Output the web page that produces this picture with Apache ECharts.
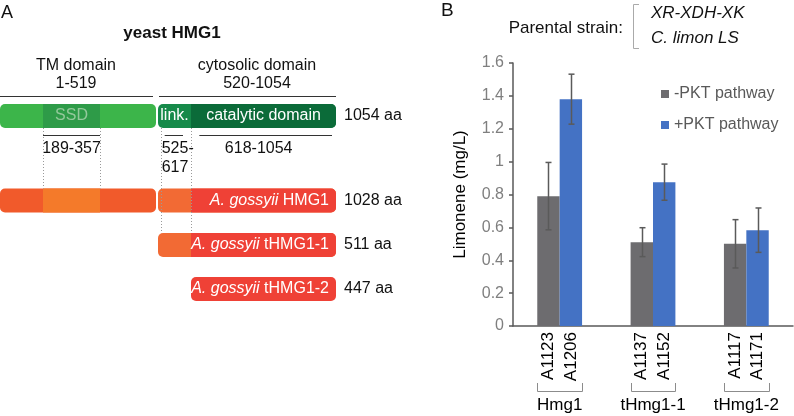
<!DOCTYPE html>
<html><head><meta charset="utf-8">
<script src="https://cdn.jsdelivr.net/npm/echarts@6/dist/echarts.min.js"></script>
<style>html,body{margin:0;padding:0;background:#fff}#c{width:794px;height:416px}</style>
</head><body><div id="c"></div>
<script>
// ---------- Panel B data ----------
const groups = ['Hmg1', 'tHmg1-1', 'tHmg1-2'];
const strainsMinus = ['A1123', 'A1137', 'A1117'];
const strainsPlus = ['A1206', 'A1152', 'A1171'];
const seriesNames = ['-PKT pathway', '+PKT pathway'];
const minusPKT = [0.79, 0.51, 0.50];
const minusPKTErr = [0.205, 0.088, 0.147];
const plusPKT = [1.38, 0.875, 0.583];
const plusPKTErr = [0.152, 0.11, 0.135];
const yMin = 0, yMax = 1.6, yStep = 0.2;
const yAxisTitle = 'Limonene (mg/L)';
const parentalLabel = 'Parental strain:';
const parentalStrain = ['XR-XDH-XK', 'C. limon LS'];

// ---------- Panel A data ----------
const diagramTitle = 'yeast HMG1';
const proteinNames = ['yeast HMG1', 'A. gossyii HMG1', 'A. gossyii tHMG1-1', 'A. gossyii tHMG1-2'];
const proteinLengths = ['1054 aa', '1028 aa', '511 aa', '447 aa'];
const domainNames = ['TM domain', 'cytosolic domain'];
const domainRanges = [[1, 519], [520, 1054]];
const ssdRange = [189, 357];
const linkRange = [525, 617];
const catalyticRange = [618, 1054];
// segments present in each protein row (yeast numbering)
const rowSegments = [
  ['tm', 'ssd', 'cyto', 'cat'],
  ['tm', 'ssd', 'cyto', 'cat'],
  ['cyto', 'cat'],
  ['catOnly']
];

// ---------- layout / style ----------
const FONT = '"Liberation Sans", Arial, Helvetica, sans-serif';
const aaKnots = [0, 189, 357, 519, 520, 617, 1054];
const pxKnots = [0, 43, 100, 156, 158, 191, 336];
function aaX(aa) {
  for (let k = 1; k < aaKnots.length; k++) {
    if (aa <= aaKnots[k]) {
      const t = (aa - aaKnots[k - 1]) / (aaKnots[k] - aaKnots[k - 1] || 1);
      return pxKnots[k - 1] + t * (pxKnots[k] - pxKnots[k - 1]);
    }
  }
  return pxKnots[pxKnots.length - 1];
}
const rowY = [116, 200.5, 245, 289];
const rowH = 24;
const palettes = [
  { tm: '#3cb54a', ssd: '#2e9b48', link: '#168a4a', cat: '#0b6b39' },
  { tm: '#f15a2b', ssd: '#f47a2a', link: '#f26a34', cat: '#ef4136' },
  { tm: '#f15a2b', ssd: '#f47a2a', link: '#f26a34', cat: '#ef4136' },
  { tm: '#f15a2b', ssd: '#f47a2a', link: '#f26a34', cat: '#ef4136' }
];
const BAR_W = 0.24; // fraction of category band

function richName(name) {
  const sp = name.lastIndexOf(' ');
  return '{i|' + name.slice(0, sp) + '} ' + name.slice(sp + 1);
}

function renderRow(params, api) {
  const r = api.value(0);
  const pal = palettes[r];
  const P = (x, y) => api.coord([x, y]);
  const top = rowY[r] - rowH / 2;
  const children = [];
  const rect = (a, b, fill, rad) => {
    const p0 = P(aaX(a), top), p1 = P(aaX(b), top + rowH);
    children.push({ type: 'rect', shape: { x: p0[0], y: p0[1], width: p1[0] - p0[0], height: p1[1] - p0[1], r: rad }, style: { fill } });
  };
  rowSegments[r].forEach(s => {
    if (s === 'tm') rect(0, domainRanges[0][1], pal.tm, 5);
    if (s === 'ssd') rect(ssdRange[0], ssdRange[1], pal.ssd, 0);
    if (s === 'cyto') rect(domainRanges[1][0], domainRanges[1][1], pal.link, 5);
    if (s === 'cat') rect(linkRange[1], catalyticRange[1], pal.cat, [0, 5, 5, 0]);
    if (s === 'catOnly') rect(linkRange[1], catalyticRange[1], pal.cat, 5);
  });
  const c = P(0, rowY[r]);
  if (r === 0) {
    children.push({ type: 'text', x: P(aaX((ssdRange[0] + ssdRange[1]) / 2), 0)[0], y: c[1], style: { text: 'SSD', fill: '#93c99b', fontSize: 16, fontFamily: FONT, align: 'center', verticalAlign: 'middle' } });
    children.push({ type: 'text', x: P((aaX(domainRanges[1][0]) + aaX(linkRange[1])) / 2, 0)[0], y: c[1], style: { text: 'link.', fill: '#fff', fontSize: 16, fontFamily: FONT, align: 'center', verticalAlign: 'middle' } });
    children.push({ type: 'text', x: P((aaX(linkRange[1]) + aaX(catalyticRange[1])) / 2, 0)[0], y: c[1], style: { text: 'catalytic domain', fill: '#fff', fontSize: 16, fontFamily: FONT, align: 'center', verticalAlign: 'middle' } });
  } else {
    children.push({ type: 'text', x: P(aaX(catalyticRange[1]) - 7, 0)[0], y: c[1], style: { text: richName(proteinNames[r]), fill: '#fff', fontSize: 16, fontFamily: FONT, align: 'right', verticalAlign: 'middle', rich: { i: { fontStyle: 'italic', fontSize: 16, fontFamily: FONT, fill: '#fff' } } } });
  }
  children.push({ type: 'text', x: P(aaX(catalyticRange[1]) + 8, 0)[0], y: c[1], style: { text: proteinLengths[r], fill: '#111', fontSize: 16, fontFamily: FONT, align: 'left', verticalAlign: 'middle' } });
  return { type: 'group', children };
}

function renderAnnot(params, api) {
  const P = (x, y) => api.coord([x, y]);
  const children = [];
  const txt = (x, y, t, o) => children.push({ type: 'text', x: P(x, y)[0], y: P(x, y)[1], style: Object.assign({ text: t, fill: '#111', fontSize: 16, fontFamily: FONT, align: 'center', verticalAlign: 'middle' }, o || {}) });
  const ln = (x1, y1, x2, y2, o) => { const a = P(x1, y1), b = P(x2, y2); children.push({ type: 'line', shape: { x1: a[0], y1: Math.round(a[1]) + 0.5, x2: b[0], y2: Math.round(b[1]) + 0.5 }, style: Object.assign({ stroke: '#333', lineWidth: 1 }, o || {}) }); };
  const vln = (x, y1, y2) => { const a = P(x, y1), b = P(x, y2); children.push({ type: 'line', shape: { x1: Math.round(a[0]) + 0.5, y1: a[1], x2: Math.round(b[0]) + 0.5, y2: b[1] }, style: { stroke: '#9a9a9a', lineWidth: 1, lineDash: [1, 2] } }); };
  txt(172, 33, diagramTitle, { fontWeight: 'bold', fontSize: 17 });
  const tmC = (aaX(0) + aaX(domainRanges[0][1])) / 2;
  const cyC = (aaX(domainRanges[1][0]) + aaX(domainRanges[1][1])) / 2 + 10;
  txt(tmC - 2, 66, domainNames[0]);
  txt(tmC - 2, 84, domainRanges[0].join('-'));
  txt(cyC, 66, domainNames[1]);
  txt(cyC, 84, domainRanges[1].join('-'));
  ln(aaX(0), 95.5, aaX(domainRanges[0][1]) - 3, 95.5);
  ln(aaX(domainRanges[1][0]) + 1, 95.5, aaX(domainRanges[1][1]), 95.5);
  // sub-domain ranges
  ln(aaX(ssdRange[0]), 135, aaX(ssdRange[1]), 135);
  ln(aaX(linkRange[0]) + 5, 135, aaX(linkRange[1]) - 8, 135);
  ln(aaX(catalyticRange[0]) + 8, 135, aaX(catalyticRange[1]) - 4, 135);
  txt((aaX(ssdRange[0]) + aaX(ssdRange[1])) / 2, 149, ssdRange.join('-'));
  txt(aaX(linkRange[0]) + 2, 149, linkRange[0] + '-', { align: 'left' });
  txt(aaX(linkRange[0]) + 2, 168, String(linkRange[1]), { align: 'left' });
  txt((aaX(catalyticRange[0]) + aaX(catalyticRange[1])) / 2 - 5, 149, catalyticRange.join('-'));
  // dotted guides
  vln(aaX(ssdRange[0]), rowY[0] + rowH / 2, rowY[1] - rowH / 2);
  vln(aaX(ssdRange[1]), rowY[0] + rowH / 2, rowY[1] - rowH / 2);
  vln(aaX(linkRange[0]) + 1, rowY[0] + rowH / 2, rowY[2] - rowH / 2);
  vln(aaX(linkRange[1]), rowY[0] + rowH / 2, rowY[2] - rowH / 2);
  return { type: 'group', children };
}

function errRender(side) {
  return function (params, api) {
    const i = api.value(0), v = api.value(1), e = api.value(2);
    const band = api.size([1, 0])[0];
    const bw = band * BAR_W;
    const x = Math.round(api.coord([i, v])[0] + side * bw / 2) + 0.5;
    const yt = api.coord([i, v + e])[1], yb = api.coord([i, v - e])[1];
    const st = { stroke: '#5a5a5a', lineWidth: 1.5 };
    return { type: 'group', children: [
      { type: 'line', shape: { x1: x, y1: yt, x2: x, y2: yb }, style: st },
      { type: 'line', shape: { x1: x - 3, y1: yt, x2: x + 3, y2: yt }, style: st },
      { type: 'line', shape: { x1: x - 3, y1: yb, x2: x + 3, y2: yb }, style: st }
    ] };
  };
}

function renderStrains(params, api) {
  const i = api.value(0);
  const band = api.size([1, 0])[0];
  const bw = band * BAR_W;
  const c = api.coord([i, 0]);
  const cx = c[0], y0 = c[1];
  const children = [];
  [[cx - bw / 2, strainsMinus[i]], [cx + bw / 2, strainsPlus[i]]].forEach(([x, t]) => {
    children.push({ type: 'text', x: x, y: y0 + 6, rotation: Math.PI / 2, style: { text: t, fill: '#000', fontSize: 17, fontFamily: FONT, align: 'right', verticalAlign: 'middle' } });
  });
  const x1 = Math.round(cx - bw) + 0.5, x2 = Math.round(cx + bw) + 0.5, yb = Math.round(y0 + 65) + 0.5;
  children.push({ type: 'polyline', shape: { points: [[x1, y0 + 57], [x1, yb], [x2, yb], [x2, y0 + 57]] }, style: { stroke: '#8c8c8c', lineWidth: 1, fill: null } });
  children.push({ type: 'text', x: cx, y: y0 + 79, style: { text: groups[i], fill: '#000', fontSize: 17, fontFamily: FONT, align: 'center', verticalAlign: 'middle' } });
  return { type: 'group', children };
}

const chart = echarts.init(document.getElementById('c'), null, { renderer: 'canvas' });
chart.setOption({
  backgroundColor: '#fff',
  animation: false,
  textStyle: { fontFamily: FONT },
  grid: [
    { left: 513, right: 1, top: 63, bottom: 90 },
    { left: 0, top: 0, width: 400, height: 416 }
  ],
  xAxis: [
    { type: 'category', gridIndex: 0, data: groups, axisLine: { lineStyle: { color: '#595959', width: 1.5 } }, axisTick: { show: false }, axisLabel: { show: false } },
    { type: 'value', gridIndex: 1, min: 0, max: 400, show: false }
  ],
  yAxis: [
    { type: 'value', gridIndex: 0, min: yMin, max: yMax, interval: yStep,
      axisLine: { show: true, lineStyle: { color: '#595959', width: 1.5 } },
      axisTick: { show: true, length: 4, lineStyle: { color: '#595959', width: 1.5 } },
      axisLabel: { color: '#7f7f7f', fontSize: 16, margin: 9, fontFamily: FONT },
      splitLine: { show: false },
      name: yAxisTitle, nameLocation: 'middle', nameGap: 44,
      nameTextStyle: { color: '#000', fontSize: 17, fontFamily: FONT } },
    { type: 'value', gridIndex: 1, min: 0, max: 416, inverse: true, show: false }
  ],
  legend: {
    data: seriesNames, orient: 'vertical', left: 656, top: 81, itemWidth: 8, itemHeight: 8, itemGap: 15,
    icon: 'rect', textStyle: { fontSize: 16, color: '#595959', fontFamily: FONT }
  },
  series: [
    { type: 'bar', name: seriesNames[0], data: minusPKT, barWidth: (BAR_W * 100) + '%', barGap: '0%', itemStyle: { color: '#6d6c6f' }, xAxisIndex: 0, yAxisIndex: 0 },
    { type: 'bar', name: seriesNames[1], data: plusPKT, barWidth: (BAR_W * 100) + '%', barGap: '0%', itemStyle: { color: '#4472c4' }, xAxisIndex: 0, yAxisIndex: 0 },
    { type: 'custom', name: 'errMinus', xAxisIndex: 0, yAxisIndex: 0, data: minusPKT.map((v, i) => [i, v, minusPKTErr[i]]), renderItem: errRender(-1), z: 5, silent: true },
    { type: 'custom', name: 'errPlus', xAxisIndex: 0, yAxisIndex: 0, data: plusPKT.map((v, i) => [i, v, plusPKTErr[i]]), renderItem: errRender(1), z: 5, silent: true },
    { type: 'custom', name: 'strains', xAxisIndex: 0, yAxisIndex: 0, data: groups.map((g, i) => [i, 0]), renderItem: renderStrains, clip: false, silent: true },
    { type: 'custom', name: 'proteins', xAxisIndex: 1, yAxisIndex: 1, data: proteinNames.map((n, i) => [i]), renderItem: renderRow, clip: false, silent: true },
    { type: 'custom', name: 'annot', xAxisIndex: 1, yAxisIndex: 1, data: [[0]], renderItem: renderAnnot, clip: false, silent: true }
  ],
  graphic: [
    { type: 'text', x: 1, y: 13, style: { text: 'A', fontSize: 18, fill: '#111', fontFamily: FONT, verticalAlign: 'middle' } },
    { type: 'text', x: 441, y: 11, style: { text: 'B', fontSize: 19, fill: '#111', fontFamily: FONT, verticalAlign: 'middle' } },
    { type: 'text', x: 623, y: 28, style: { text: parentalLabel, fontSize: 17, fill: '#111', fontFamily: FONT, align: 'right', verticalAlign: 'middle' } },
    { type: 'polyline', shape: { points: [[639, 4.5], [633.5, 4.5], [633.5, 48.5], [639, 48.5]] }, style: { stroke: '#aaaaaa', lineWidth: 1, fill: null } },
    { type: 'text', x: 651, y: 13, style: { text: parentalStrain[0], fontSize: 17, fontStyle: 'italic', fill: '#111', fontFamily: FONT, verticalAlign: 'middle' } },
    { type: 'text', x: 651, y: 38, style: { text: parentalStrain[1], fontSize: 17, fontStyle: 'italic', fill: '#111', fontFamily: FONT, verticalAlign: 'middle' } }
  ]
});
</script>
</body></html>
